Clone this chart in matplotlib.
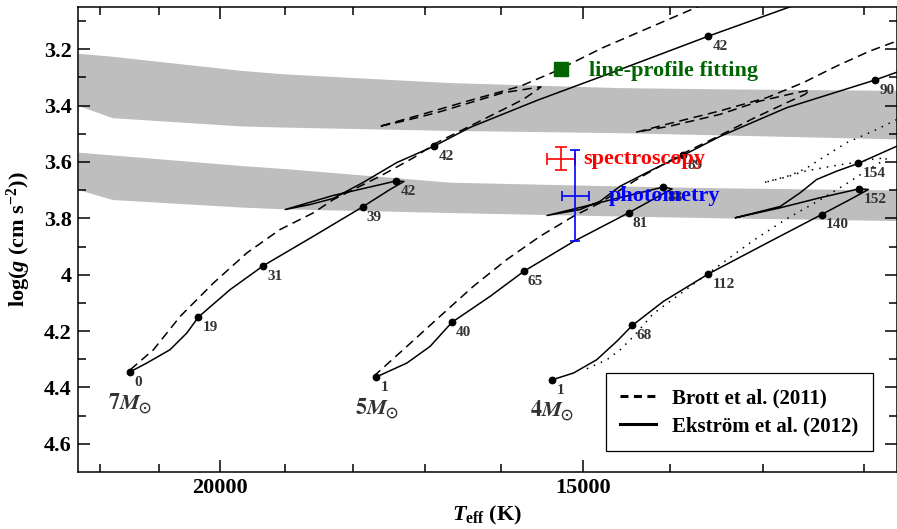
import numpy as np
import matplotlib
matplotlib.use('Agg')
import matplotlib.pyplot as plt
from matplotlib.ticker import FixedLocator, FixedFormatter, NullFormatter
from matplotlib.lines import Line2D

plt.rcParams['font.family'] = 'Liberation Serif'
plt.rcParams['font.weight'] = 'bold'
plt.rcParams['axes.labelweight'] = 'bold'
plt.rcParams['mathtext.fontset'] = 'custom'
plt.rcParams['mathtext.rm'] = 'Liberation Serif:bold'
plt.rcParams['mathtext.it'] = 'Liberation Serif:italic:bold'
plt.rcParams['mathtext.bf'] = 'Liberation Serif:bold'

# Ekstrom et al. (2012) tracks (log Teff, log g)
ek7_logt = [4.3320, 4.3263, 4.3183, 4.3125, 4.3085, 4.2976, 4.2861, 4.2689, 4.2519, 4.2425,
            4.2377, 4.2404, 4.2621, 4.2786, 4.2700, 4.2621, 4.2518, 4.2401, 4.2273, 4.2149,
            4.1918, 4.1667, 4.1329, 4.1012]
ek7_logg = [4.3443, 4.3134, 4.2661, 4.2068, 4.1499, 4.0529, 3.9676, 3.8635, 3.7590, 3.6975,
            3.6691, 3.6673, 3.7189, 3.7686, 3.7508, 3.7295, 3.6727, 3.6016, 3.5437, 3.4772,
            3.3812, 3.2853, 3.1538, 3.0365]

ek5_logt = [4.2473, 4.2367, 4.2287, 4.2212, 4.2080, 4.1964, 4.1793, 4.1603, 4.1529, 4.1467,
            4.1453, 4.1483, 4.1884, 4.1770, 4.1701, 4.1632, 4.1519, 4.1414, 4.1288, 4.1058,
            4.0754, 4.0651]
ek5_logg = [4.3631, 4.3134, 4.2544, 4.1691, 4.0767, 3.9879, 3.8823, 3.7803, 3.7384, 3.7029,
            3.6958, 3.6886, 3.7899, 3.7686, 3.7391, 3.6858, 3.6265, 3.5756, 3.5092, 3.4072,
            3.3091, 3.2711]

ek4_logt = [4.1866, 4.1793, 4.1713, 4.1644, 4.1590, 4.1483, 4.1328, 4.1133, 4.0938, 4.0829,
            4.0777, 4.0808, 4.0944, 4.1081, 4.1236, 4.1150, 4.1081, 4.1012, 4.0955, 4.0886,
            4.0812, 4.0678, 4.0634]
ek4_logg = [4.3727, 4.3489, 4.3017, 4.2366, 4.1798, 4.0945, 3.9971, 3.8912, 3.7864, 3.7270,
            3.6975, 3.6950, 3.7270, 3.7626, 3.7981, 3.7757, 3.7579, 3.7093, 3.6620, 3.6325,
            3.6051, 3.5436, 3.5234]

# ages (Myr) marked on the Ekstrom tracks
ek7_ages = ['0', '19', '31', '39', '42', '42', '42']
ek7_age_logt = [4.3320, 4.3085, 4.2861, 4.2519, 4.2404, 4.2273, 4.1329]
ek7_age_logg = [4.3443, 4.1499, 3.9676, 3.7590, 3.6673, 3.5437, 3.1538]

ek5_ages = ['1', '40', '65', '81', '88', '89', '90']
ek5_age_logt = [4.2473, 4.2212, 4.1964, 4.1603, 4.1483, 4.1414, 4.0754]
ek5_age_logg = [4.3631, 4.1691, 3.9879, 3.7803, 3.6886, 3.5756, 3.3091]

ek4_ages = ['1', '68', '112', '140', '152', '154']
ek4_age_logt = [4.1866, 4.1590, 4.1328, 4.0938, 4.0808, 4.0812]
ek4_age_logg = [4.3727, 4.1798, 3.9971, 3.7864, 3.6950, 3.6051]

# Brott et al. (2011) tracks
br7_logt = [4.3320, 4.3240, 4.3148, 4.3033, 4.2918, 4.2804, 4.2689, 4.2620, 4.2459, 4.2344,
            4.2264, 4.2115, 4.2034, 4.1966, 4.1919, 4.1905, 4.2034, 4.2149, 4.2264, 4.2379,
            4.2465, 4.2321, 4.2149, 4.1977, 4.1863, 4.1691, 4.1360, 4.1288]
br7_logg = [4.3372, 4.2661, 4.1478, 4.0291, 3.9225, 3.8397, 3.7803, 3.7331, 3.6503, 3.5849,
            3.5316, 3.4548, 3.4132, 3.3777, 3.3446, 3.3333, 3.3539, 3.3894, 3.4250, 3.4548,
            3.4747, 3.4328, 3.3812, 3.3315, 3.2817, 3.1940, 3.0472, 3.0152]

br5_logt = [4.2482, 4.2367, 4.2253, 4.2138, 4.2023, 4.1908, 4.1793, 4.1701, 4.1575, 4.1495,
            4.1415, 4.1288, 4.1173, 4.1058, 4.0995, 4.0978, 4.1024, 4.1150, 4.1288, 4.1460,
            4.1575, 4.1460, 4.1288, 4.1127, 4.1001, 4.0886, 4.0771, 4.0634]
br5_logg = [4.3610, 4.2544, 4.1478, 4.0412, 3.9463, 3.8635, 3.7924, 3.7448, 3.6620, 3.6147,
            3.5696, 3.5056, 3.4452, 3.3894, 3.3599, 3.3446, 3.3539, 3.3837, 3.4310, 3.4726,
            3.4939, 3.4630, 3.4186, 3.3717, 3.3183, 3.2594, 3.2060, 3.1538]

br4_logt = [4.1747, 4.1678, 4.1632, 4.1587, 4.1518, 4.1437, 4.1334, 4.1254, 4.1174, 4.1057,
            4.0944, 4.0851, 4.0782, 4.0713, 4.0748, 4.0829, 4.0909, 4.1001, 4.1058, 4.1139,
            4.1047, 4.0992, 4.0944, 4.0852, 4.0760, 4.0678, 4.0634]
br4_logg = [4.3336, 4.3017, 4.2661, 4.2199, 4.1382, 4.0767, 3.9996, 3.9392, 3.8788, 3.8006,
            3.7348, 3.6762, 3.6300, 3.5874, 3.5874, 3.6026, 3.6158, 3.6336, 3.6531, 3.6737,
            3.6478, 3.6229, 3.5909, 3.5316, 3.4903, 3.4488, 3.4274]

# grey bands
band_logt = [4.3500, 4.3382, 4.2941, 4.2793, 4.2218, 4.1632, 4.1288, 4.0678]
up_top = [3.2142, 3.2248, 3.2746, 3.2871, 3.3183, 3.3361, 3.3404, 3.3457]
up_bot = [3.3990, 3.4427, 3.4719, 3.4761, 3.4879, 3.4960, 3.5038, 3.5181]
lo_top = [3.5650, 3.5749, 3.6122, 3.6229, 3.6716, 3.6851, 3.6915, 3.6993]
lo_bot = [3.6975, 3.7331, 3.7597, 3.7661, 3.7793, 3.7917, 3.7981, 3.8077]

# observed values
spec_teff, spec_teff_err, spec_logg, spec_logg_err = 15260, 170, 3.588, 0.040
phot_teff, phot_teff_err, phot_logg, phot_logg_err = 15090, 165, 3.719, 0.161
lpf_teff, lpf_logg = 15260, 3.269


def T(lt):
    return np.power(10.0, np.asarray(lt))


fig = plt.figure(figsize=(8.97, 5.29), dpi=100)
ax = fig.add_axes([78 / 897, 57 / 529, 818.5 / 897, 465 / 529])

bt = T(band_logt)
ax.fill_between(bt, up_top, up_bot, color='#bebebe', lw=0, zorder=0)
ax.fill_between(bt, lo_top, lo_bot, color='#bebebe', lw=0, zorder=0)

dash = (0, (6.0, 3.6))
for lt, lg in [(br7_logt, br7_logg), (br5_logt, br5_logg)]:
    ax.plot(T(lt), lg, color='k', lw=1.1, ls=dash, zorder=2)
ax.plot(T(br4_logt), br4_logg, color='k', lw=1.1, ls=(0, (1.0, 4.0)), zorder=2)

for lt, lg in [(ek7_logt, ek7_logg), (ek5_logt, ek5_logg), (ek4_logt, ek4_logg)]:
    ax.plot(T(lt), lg, color='k', lw=1.1, zorder=3)

for ages, lt, lg in [(ek7_ages, ek7_age_logt, ek7_age_logg),
                     (ek5_ages, ek5_age_logt, ek5_age_logg),
                     (ek4_ages, ek4_age_logt, ek4_age_logg)]:
    ax.plot(T(lt), lg, 'o', color='k', ms=4.6, zorder=4)
    for a, x, y in zip(ages, T(lt), lg):
        ax.annotate(a, (x, y), xytext=(3, -7.5), textcoords='offset points',
                    ha='left', va='center', fontsize=11, color='#333333', zorder=5)

# mass labels
for txt, lt, lg in [(r'$7M_{\odot}$', 4.3396, 4.4793),
                    (r'$5M_{\odot}$', 4.2545, 4.4971),
                    (r'$4M_{\odot}$', 4.1943, 4.5031)]:
    ax.text(10 ** lt, lg, txt, fontsize=16, color='#333333', ha='left', va='baseline',
            math_fontfamily='stix', zorder=5)

# observations
ax.errorbar(spec_teff, spec_logg, xerr=spec_teff_err, yerr=spec_logg_err, color='red',
            lw=1.2, capsize=4, capthick=1.2, zorder=6)
ax.errorbar(phot_teff, phot_logg, xerr=phot_teff_err, yerr=phot_logg_err, color='blue',
            lw=1.2, capsize=3.5, capthick=1.2, zorder=6)
ax.plot(lpf_teff, lpf_logg, 's', color='#006400', ms=10, zorder=6)

ax.text(10 ** 4.1738, 3.2960, 'line-profile fitting', color='#006400', fontsize=16,
        ha='left', va='baseline', zorder=7)
ax.text(10 ** 4.1759, 3.6087, 'spectroscopy', color='red', fontsize=16,
        ha='left', va='baseline', zorder=7)
ax.text(10 ** 4.1673, 3.7391, 'photometry', color='blue', fontsize=16,
        ha='left', va='baseline', zorder=7)

ax.set_xscale('log')
ax.set_xlim(10 ** 4.35, 10 ** 4.068)
ax.set_ylim(4.7, 3.05)
ax.xaxis.set_major_locator(FixedLocator([20000, 15000]))
ax.xaxis.set_major_formatter(FixedFormatter(['20000', '15000']))
ax.xaxis.set_minor_locator(FixedLocator([22000, 21000, 19000, 18000, 17000, 16000,
                                         14000, 13000, 12000]))
ax.xaxis.set_minor_formatter(NullFormatter())
ax.set_yticks([3.2, 3.4, 3.6, 3.8, 4.0, 4.2, 4.4, 4.6])
ax.set_yticklabels(['3.2', '3.4', '3.6', '3.8', '4', '4.2', '4.4', '4.6'])
ax.set_yticks([3.1, 3.3, 3.5, 3.7, 3.9, 4.1, 4.3, 4.5], minor=True)

ax.tick_params(which='both', direction='in', top=True, right=True, width=1.1,
               labelsize=16, pad=4.5)
ax.tick_params(which='major', length=8.6)
ax.tick_params(which='minor', length=5.5)
for s in ax.spines.values():
    s.set_linewidth(1.1)

ax.set_xlabel(r'$T_{\rm eff}$ (K)', fontsize=16, fontweight='bold', labelpad=4)
ax.set_ylabel(r'log($g$ (cm s$^{-2}$))', fontsize=16, fontweight='bold', labelpad=8)

handles = [Line2D([], [], color='k', lw=2.2, ls=(0, (2.6, 1.8))),
           Line2D([], [], color='k', lw=2.2)]
leg = ax.legend(handles, ['Brott et al. (2011)', 'Ekström et al. (2012)'],
                loc='lower right', bbox_to_anchor=(0.9713, 0.0452), borderaxespad=0,
                fontsize=15, fancybox=False, framealpha=1, edgecolor='k',
                handlelength=1.7, handletextpad=0.8, borderpad=0.7, labelspacing=0.4)
leg.get_frame().set_linewidth(0.9)
leg.set_zorder(8)

fig.savefig('out.png', dpi=100)
